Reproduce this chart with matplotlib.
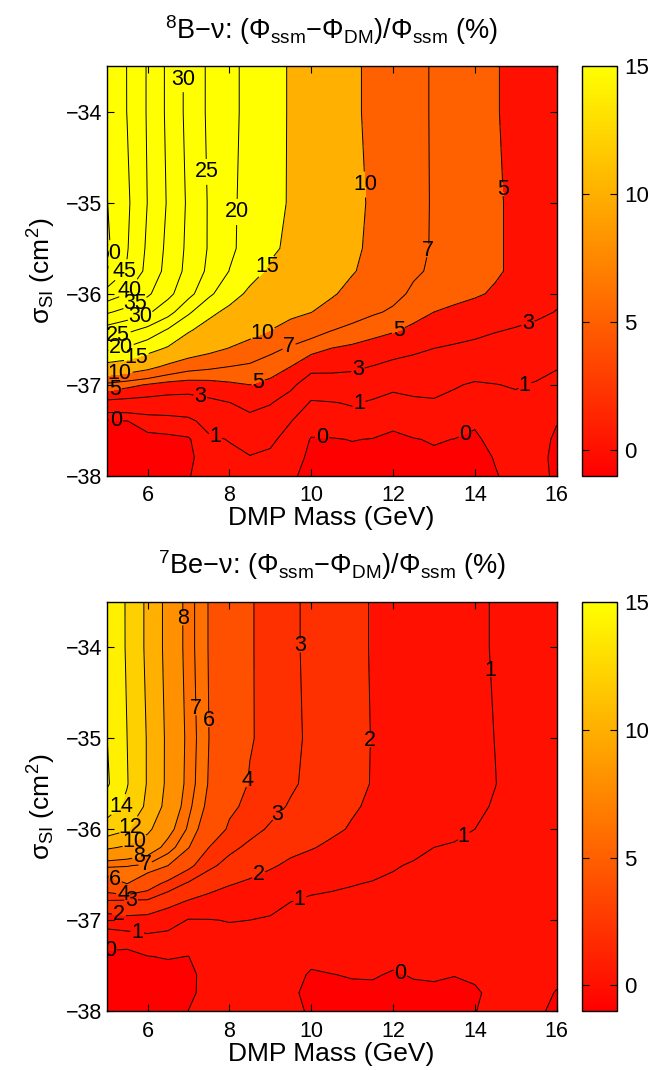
import numpy as np
import matplotlib
matplotlib.use('Agg')
import matplotlib.pyplot as plt
from matplotlib import colors, cm

plt.rcParams['font.family'] = ['Liberation Sans', 'DejaVu Sans']
plt.rcParams['mathtext.fontset'] = 'custom'
plt.rcParams['mathtext.rm'] = 'Liberation Sans'
plt.rcParams['mathtext.it'] = 'Liberation Sans:italic'
plt.rcParams['mathtext.bf'] = 'Liberation Sans:bold'

# grid: DMP mass (GeV) x log10 cross section
mass = [5, 5.5, 6, 6.5, 7, 7.5, 8, 8.5, 9, 9.5, 10, 10.5, 11, 11.5, 12,
        12.5, 13, 13.5, 14, 14.5, 15, 15.5, 16]
sigma = [-38.0, -37.8, -37.6, -37.4, -37.2, -37.0, -36.8, -36.6, -36.4,
         -36.2, -36.0, -35.75, -35.5, -35.0, -34.0, -33.5]

# 8B flux change (%), one row per sigma value
flux_b8 = [
    [-0.7, -0.65, -0.6, -0.5, -0.05, 0.4, 0.7, 0.8, 0.6, 0.15, -0.3, -0.3, -0.25, -0.25, -0.3, -0.25, -0.2, -0.2, -0.25, -0.05, 0.25, 0.22, -0.12],
    [-0.6, -0.55, -0.5, -0.4, -0.2, 0.5, 0.75, 0.92, 0.8, 0.4, -0.2, -0.2, -0.15, -0.18, -0.3, -0.2, -0.1, -0.15, -0.3, 0.05, 0.3, 0.2, -0.15],
    [-0.4, -0.35, -0.25, -0.2, -0.1, 0.8, 1.05, 1.6, 1.2, 0.6, -0.05, -0.04, 0.02, -0.02, -0.15, -0.03, 0.05, -0.01, -0.15, 0.3, 0.35, 0.25, -0.1],
    [-0.2, -0.02, 0.4, 0.53, 0.71, 1.47, 2.0, 2.48, 2.14, 1.03, 0.37, 0.43, 0.54, 0.39, 0.18, 0.37, 0.46, 0.35, 0.13, 0.5, 0.5, 0.35, 0.03],
    [2.33, 2.18, 2.1, 2.04, 2.07, 2.53, 2.95, 3.57, 3.1, 2.17, 0.84, 0.93, 1.1, 0.83, 0.64, 0.78, 0.85, 0.7, 0.5, 0.74, 0.75, 0.6, 0.37],
    [6.4, 5.6, 4.85, 4.2, 4.0, 4.2, 4.65, 5.0, 4.5, 3.4, 1.96, 2.1, 2.2, 1.7, 1.25, 1.4, 1.45, 1.1, 0.87, 0.97, 1.09, 0.9, 0.7],
    [13.4, 12.5, 11.1, 9.25, 8.0, 7.5, 7.0, 6.6, 5.9, 5.0, 3.6, 3.5, 3.3, 2.95, 2.5, 2.35, 2.25, 1.95, 1.6, 1.63, 1.69, 1.4, 1.07],
    [20.9, 19.4, 16.7, 14.5, 12.3, 11.0, 9.9, 8.9, 7.6, 6.7, 5.7, 4.97, 4.6, 4.2, 3.8, 3.35, 3.0, 2.75, 2.5, 2.37, 2.28, 2.03, 1.73],
    [27.9, 26.1, 23.6, 19.4, 15.4, 13.4, 12.2, 11.1, 10.0, 8.9, 8.1, 7.05, 6.4, 5.7, 5.2, 4.6, 4.2, 3.8, 3.5, 3.1, 2.88, 2.66, 2.4],
    [35.7, 33.3, 30.8, 27.0, 20.8, 16.0, 14.0, 12.8, 11.7, 10.7, 10.05, 9.0, 8.0, 7.3, 6.7, 5.65, 5.0, 4.6, 4.35, 3.95, 3.6, 3.3, 2.95],
    [43.1, 40.0, 35.8, 31.3, 26.6, 21.0, 16.7, 14.2, 13.0, 12.0, 11.0, 10.3, 9.2, 8.5, 7.6, 6.65, 6.1, 5.6, 5.2, 4.8, 4.3, 3.8, 3.3],
    [50.2, 44.6, 38.6, 33.3, 28.5, 24.0, 19.9, 16.5, 14.4, 13.3, 12.3, 11.2, 10.2, 9.2, 8.3, 7.3, 6.7, 6.2, 5.7, 5.2, 4.7, 4.2, 3.8],
    [51.0, 45.3, 39.2, 33.8, 28.9, 24.6, 20.9, 18.2, 15.7, 14.2, 12.9, 11.7, 10.5, 9.5, 8.5, 7.6, 6.8, 6.2, 5.7, 5.2, 4.7, 4.3, 4.0],
    [50.2, 45.8, 39.9, 34.5, 29.2, 24.6, 20.9, 18.5, 16.4, 14.6, 13.3, 12.1, 10.8, 9.6, 8.6, 7.7, 6.8, 6.3, 5.7, 5.2, 4.7, 4.3, 4.0],
    [49.6, 44.9, 39.6, 34.0, 28.6, 24.2, 21.2, 18.7, 16.6, 14.6, 13.3, 11.9, 10.5, 9.4, 8.5, 7.6, 6.8, 6.2, 5.6, 5.1, 4.6, 4.2, 3.9],
    [49.0, 44.9, 39.6, 34.0, 28.6, 24.2, 21.2, 18.7, 16.6, 14.6, 13.3, 11.9, 10.5, 9.4, 8.5, 7.6, 6.8, 6.2, 5.6, 5.1, 4.6, 4.2, 3.9],
]

# 7Be flux change (%)
flux_be7 = [
    [-0.7, -0.65, -0.6, -0.45, 0.01, 0.22, 0.3, 0.3, 0.22, 0.1, -0.05, -0.2, -0.2, -0.2, -0.2, -0.2, -0.18, -0.15, -0.01, 0.1, 0.1, 0.05, -0.06],
    [-0.6, -0.55, -0.5, -0.4, -0.15, 0.25, 0.33, 0.33, 0.25, 0.1, -0.15, -0.12, -0.1, -0.1, -0.15, -0.09, -0.08, -0.09, -0.05, 0.1, 0.1, 0.06, -0.01],
    [-0.45, -0.42, -0.3, -0.25, -0.2, 0.3, 0.4, 0.4, 0.3, 0.15, -0.05, -0.01, 0.03, 0.04, -0.04, 0.03, 0.05, 0.01, 0.06, 0.12, 0.12, 0.09, 0.04],
    [-0.2, -0.32, -0.02, 0.05, -0.01, 0.4, 0.55, 0.55, 0.45, 0.35, 0.12, 0.17, 0.2, 0.23, 0.12, 0.2, 0.19, 0.16, 0.15, 0.2, 0.18, 0.14, 0.1],
    [0.43, 0.48, 0.76, 0.7, 0.48, 0.65, 0.8, 0.8, 0.7, 0.6, 0.38, 0.43, 0.43, 0.41, 0.31, 0.34, 0.32, 0.29, 0.27, 0.28, 0.25, 0.21, 0.16],
    [1.53, 1.78, 1.67, 1.42, 0.95, 0.97, 1.03, 1.0, 0.93, 0.87, 0.63, 0.64, 0.63, 0.6, 0.5, 0.5, 0.46, 0.42, 0.39, 0.38, 0.34, 0.29, 0.23],
    [2.81, 2.67, 2.76, 2.29, 1.9, 1.64, 1.55, 1.43, 1.22, 1.0, 0.87, 0.85, 0.82, 0.77, 0.68, 0.65, 0.59, 0.55, 0.52, 0.48, 0.43, 0.37, 0.3],
    [5.1, 6.0, 4.75, 3.55, 2.86, 2.4, 2.05, 1.87, 1.67, 1.43, 1.22, 1.11, 1.03, 0.96, 0.88, 0.82, 0.73, 0.67, 0.62, 0.58, 0.53, 0.45, 0.38],
    [7.2, 7.05, 6.85, 6.0, 4.3, 3.2, 2.69, 2.33, 2.09, 1.85, 1.65, 1.48, 1.3, 1.21, 1.06, 0.93, 0.86, 0.8, 0.76, 0.72, 0.65, 0.55, 0.47],
    [10.3, 9.73, 8.9, 7.5, 6.07, 4.0, 3.22, 2.81, 2.45, 2.2, 2.05, 1.85, 1.58, 1.5, 1.34, 1.19, 1.0, 0.93, 0.88, 0.8, 0.72, 0.62, 0.52],
    [13.1, 12.2, 10.4, 8.5, 6.82, 5.04, 3.79, 3.28, 2.89, 2.64, 2.39, 2.14, 1.93, 1.78, 1.62, 1.47, 1.31, 1.16, 1.0, 0.88, 0.77, 0.66, 0.56],
    [15.0, 13.6, 11.6, 9.3, 7.26, 5.64, 4.27, 3.68, 3.27, 2.91, 2.63, 2.36, 2.08, 1.89, 1.73, 1.58, 1.42, 1.26, 1.11, 0.95, 0.8, 0.68, 0.58],
    [16.3, 14.1, 11.86, 9.58, 7.55, 5.9, 4.8, 3.9, 3.5, 3.12, 2.8, 2.51, 2.22, 1.96, 1.8, 1.64, 1.48, 1.33, 1.17, 1.01, 0.82, 0.7, 0.6],
    [16.05, 14.0, 11.86, 9.6, 7.64, 6.0, 5.05, 4.1, 3.63, 3.2, 2.85, 2.55, 2.25, 1.97, 1.81, 1.65, 1.48, 1.32, 1.15, 0.99, 0.82, 0.7, 0.6],
    [15.8, 13.8, 11.6, 9.4, 7.46, 5.93, 5.0, 4.1, 3.6, 3.16, 2.81, 2.5, 2.2, 1.95, 1.78, 1.61, 1.45, 1.28, 1.12, 0.95, 0.8, 0.68, 0.57],
    [15.7, 13.8, 11.6, 9.4, 7.46, 5.93, 5.0, 4.1, 3.6, 3.16, 2.81, 2.5, 2.2, 1.95, 1.78, 1.61, 1.45, 1.28, 1.12, 0.95, 0.8, 0.68, 0.57],
]

fill_b8 = [-5, 0, 5, 10, 15, 80]
lines_b8 = [0, 1, 3, 5, 7, 10, 15, 20, 25, 30, 35, 40, 45, 50]
fill_be7 = [-5, 0, 2, 4, 6, 8, 10, 12, 14, 16, 80]
lines_be7 = [0, 1, 2, 3, 4, 6, 7, 8, 10, 12, 14, 16]

# where the contour labels sit
lab_b8 = [(6.85, -33.64), (7.37, -34.66), (8.17, -35.1), (11.25, -34.8),
          (14.65, -34.85), (12.82, -35.52), (8.9, -35.7), (8.8, -36.42),
          (9.45, -36.57), (8.72, -37.0), (7.3, -37.1), (7.68, -37.53),
          (5.22, -37.42), (10.27, -37.5), (11.2, -37.24), (11.15, -36.85),
          (12.15, -36.42), (15.3, -36.33), (15.25, -37.03), (13.72, -37.5),
          (5.2, -35.56), (5.45, -35.76), (5.57, -35.96), (5.69, -36.1),
          (5.81, -36.23), (5.3, -36.49), (5.37, -36.63), (5.73, -36.7),
          (5.32, -36.88), (5.2, -37.05)]
lab_be7 = [(6.85, -33.68), (9.7, -33.98), (7.08, -34.67), (7.46, -34.8),
           (8.43, -35.46), (11.42, -35.02), (14.35, -34.25), (9.15, -35.83),
           (8.74, -36.53), (9.72, -36.77), (12.2, -37.56), (13.72, -36.07),
           (5.4, -35.77), (5.55, -35.97), (5.7, -36.15), (5.8, -36.33),
           (5.95, -36.4), (5.2, -36.56), (5.4, -36.72), (5.6, -36.84),
           (5.3, -36.95), (5.75, -37.12), (5.08, -37.32)]

norm = colors.Normalize(-1, 15)
cmap = plt.get_cmap('autumn')


def panel(ax, cax, z, fills, lines, labs, title):
    z = np.array(z)
    fc = [cmap(norm(max(v, -1))) for v in fills[:-1]]
    ax.contourf(mass, sigma, z, levels=fills, colors=fc)
    cs = ax.contour(mass, sigma, z, levels=lines, colors='k', linewidths=0.7)
    txt = ax.clabel(cs, fmt='%d', fontsize=15.5, inline=True,
                    inline_spacing=1, manual=labs)
    for t in txt:
        t.set_rotation(0)
    ax.set_xlim(5, 16)
    ax.set_ylim(-38, -33.5)
    ax.set_xticks([6, 8, 10, 12, 14, 16])
    ax.set_yticks([-38, -37, -36, -35, -34])
    ax.tick_params(direction='in', top=True, right=True, length=5,
                   width=0.8, labelsize=15.5)
    ax.tick_params(axis='x', pad=7)
    ax.tick_params(axis='y', pad=3)
    for s in ax.spines.values():
        s.set_linewidth(1.0)
    ax.set_xlabel('DMP Mass (GeV)', fontsize=19, labelpad=0)
    ax.set_ylabel('σ$_{\\mathrm{SI}}$ (cm$^{2}$)', fontsize=19, labelpad=6)
    ax.set_title(title, fontsize=19.5, pad=20)

    cb = plt.colorbar(cm.ScalarMappable(norm=norm, cmap=cmap), cax=cax)
    cb.set_ticks([0, 5, 10, 15])
    cax.tick_params(direction='in', left=True, right=True, length=5,
                    width=0.8, labelsize=16, pad=5)
    cb.outline.set_linewidth(1.0)


fig = plt.figure(figsize=(6.52, 10.7), dpi=100)
ax1 = fig.add_axes([0.1636, 0.5554, 0.6902, 0.3825])
cax1 = fig.add_axes([0.8926, 0.5554, 0.0537, 0.3825])
ax2 = fig.add_axes([0.1636, 0.0551, 0.6902, 0.3823])
cax2 = fig.add_axes([0.8926, 0.0551, 0.0537, 0.3823])

panel(ax1, cax1, flux_b8, fill_b8, lines_b8, lab_b8,
      '$^{8}$B−ν: (Φ$_{\\mathrm{ssm}}$−Φ$_{\\mathrm{DM}}$)/Φ$_{\\mathrm{ssm}}$ (%)')
panel(ax2, cax2, flux_be7, fill_be7, lines_be7, lab_be7,
      '$^{7}$Be−ν: (Φ$_{\\mathrm{ssm}}$−Φ$_{\\mathrm{DM}}$)/Φ$_{\\mathrm{ssm}}$ (%)')

fig.savefig('out.png', dpi=100)
